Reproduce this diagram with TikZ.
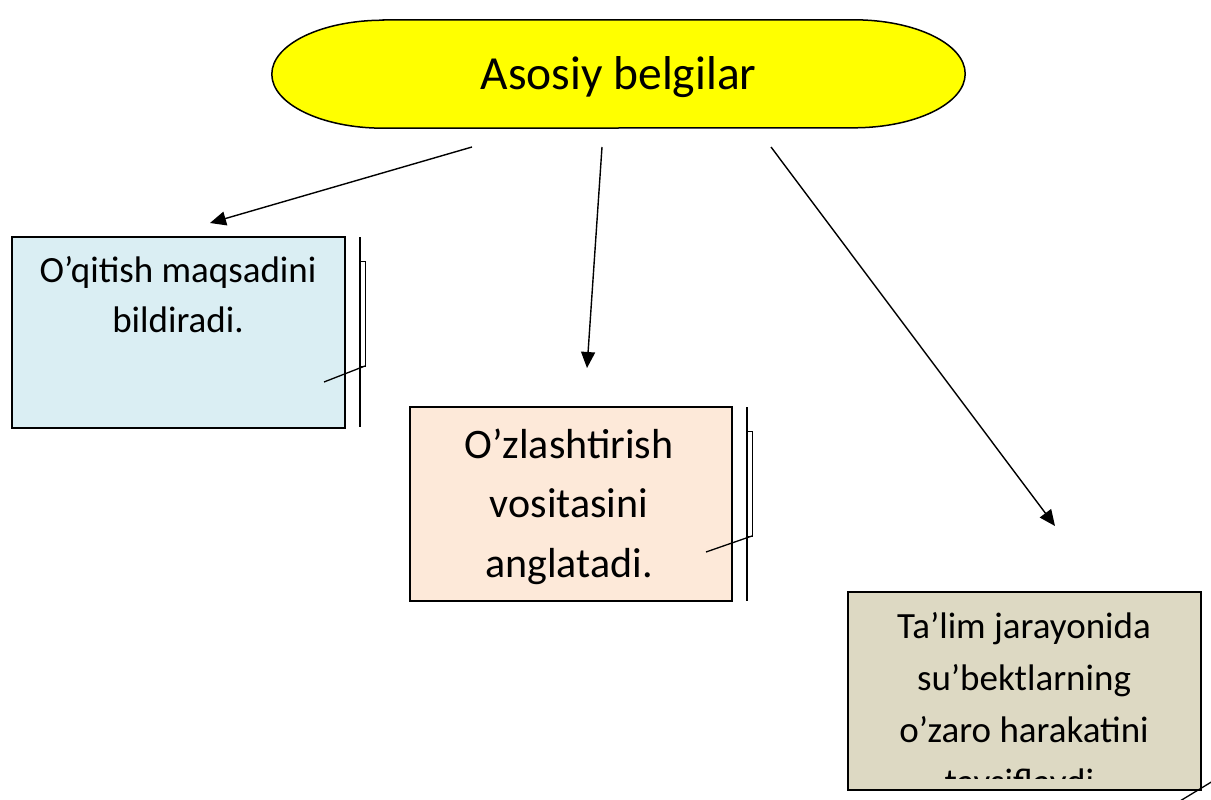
\documentclass[tikz,border=0pt]{standalone}
\usepackage{fontspec}
\setmainfont{Carlito}
\usetikzlibrary{arrows.meta}
\definecolor{titlefill}{HTML}{FFFF00}
\definecolor{bluefill}{HTML}{DAEEF3}
\definecolor{peachfill}{HTML}{FDE9D9}
\definecolor{tanfill}{HTML}{DDD9C3}
\newcommand\ctrlines[1]{\vtop{\halign{\hfil##\hfil\cr#1\crcr}}}
\tikzset{
  boxnode/.style={draw=black, line width=1.8pt, minimum width=#1, inner sep=0pt},
  textlines/.style={anchor=base, inner sep=0pt, text=black},
  connector/.style={line width=1.4pt, -{Triangle[length=16pt,width=14pt]}},
  thinline/.style={line width=1.3pt, draw=black},
}
\begin{document}
\begin{tikzpicture}[x=1pt, y=-1pt]
\useasboundingbox (0,0) rectangle (1211,800);
\fill[white] (0,0) rectangle (1211,800);

% title (flowchart terminator shape)
\node[minimum width=693pt, minimum height=108pt, inner sep=0pt] (top) at (618.5,74) {};
\draw[line width=1.5pt, fill=titlefill]
  ([xshift=111.5pt]top.north west) -- ([xshift=-111.5pt]top.north east)
  arc[start angle=90, end angle=-90, x radius=111.5pt, y radius=54pt]
  -- ([xshift=111.5pt]top.south west)
  arc[start angle=270, end angle=90, x radius=111.5pt, y radius=54pt]
  -- cycle;
\node[textlines] (toptext) at (618.5,90) {\fontsize{47.5}{56}\selectfont Asosiy belgilar};

% box 1
\node[boxnode=333pt, minimum height=191pt, fill=bluefill] (b1) at (178.5,332.5) {};
\node[textlines] (t1) at (178,282) {\fontsize{37}{50}\selectfont\ctrlines{O’qitish maqsadini\cr bildiradi.}};

% box 2
\node[boxnode=322pt, minimum height=194pt, fill=peachfill] (b2) at (571,504) {};
\node[textlines] (t2) at (569,458) {\fontsize{42}{59.5}\selectfont\ctrlines{O’zlashtirish\cr vositasini\cr anglatadi.}};

% box 3
\node[boxnode=353pt, minimum height=198pt, fill=tanfill] (b3) at (1024.5,691) {};
\begin{scope}
  \clip ([xshift=4pt]b3.north west) rectangle (1197,778);
  \node[textlines] (t3) at (1024,638) {\fontsize{37}{52}\selectfont\ctrlines{Ta’lim jarayonida\cr su’bektlarning\cr o’zaro harakatini\cr tavsiflaydi.}};
\end{scope}

% arrows
\coordinate (a1s) at (472,147);
\coordinate (a1e) at (210,223);
\coordinate (a2s) at (602,147);
\coordinate (a2e) at (587,368);
\coordinate (a3s) at (771,147);
\coordinate (a3e) at (1055,526);
\draw[connector] (a1s) -- (a1e);
\draw[connector] (a2s) -- (a2e);
\draw[connector] (a3s) -- (a3e);

% side marks box 1
\coordinate (v1t) at (360,237);
\coordinate (v1b) at (360,427);
\draw[thinline] (v1t) -- (v1b);
\draw[thinline, line width=1pt] (360,261) rectangle (365,366);
\coordinate (d1s) at (324,382);
\coordinate (d1e) at (365,366);
\draw[thinline] (d1s) -- (d1e);

% side marks box 2
\coordinate (v2t) at (747,407);
\coordinate (v2b) at (747,601);
\draw[thinline] (v2t) -- (v2b);
\draw[thinline, line width=1pt] (747,431) rectangle (752,536);
\coordinate (d2s) at (706,552);
\coordinate (d2e) at (752,536);
\draw[thinline] (d2s) -- (d2e);

% corner line bottom right
\coordinate (d3s) at (1180,801);
\coordinate (d3e) at (1213,781);
\draw[thinline] (d3s) -- (d3e);
\end{tikzpicture}
\end{document}
